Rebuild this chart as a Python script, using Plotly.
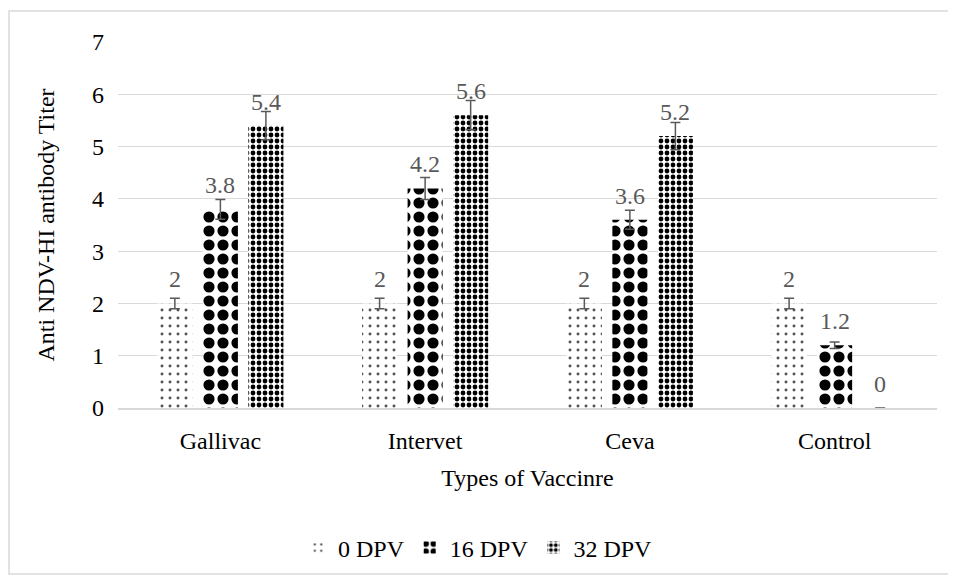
import plotly.graph_objects as go

categories = ["Gallivac", "Intervet", "Ceva", "Control"]
series_names = ["0 DPV", "16 DPV", "32 DPV"]
dpv0 = [2, 2, 2, 2]
dpv16 = [3.8, 4.2, 3.6, 1.2]
dpv32 = [5.4, 5.6, 5.2, 0]
err0 = [0.1, 0.1, 0.1, 0.1]
err16 = [0.19, 0.21, 0.18, 0.06]
err32 = [0.27, 0.28, 0.26, 0.0]

values = [dpv0, dpv16, dpv32]
errors = [err0, err16, err32]
patterns = [
    dict(shape=".", size=8, solidity=0.1, fgcolor="#505050", bgcolor="white", fillmode="replace"),
    dict(shape=".", size=14, solidity=0.5, fgcolor="black", bgcolor="white", fillmode="replace"),
    dict(shape=".", size=6, solidity=0.5, fgcolor="black", bgcolor="white", fillmode="replace"),
]

FONT = "Liberation Serif, Times New Roman, serif"
FS = 24
fig = go.Figure()
for name, vals, errs, pat in zip(series_names, values, errors, patterns):
    fig.add_trace(go.Bar(
        name=name, x=categories, y=vals,
        marker=dict(color="white", pattern=pat, line=dict(width=0)),
        error_y=dict(type="data", array=errs, visible=True, color="#595959", thickness=1.5, width=5),
    ))

annotations = []
slot = 45.5
for i, vals in enumerate(values):
    for c, v in zip(categories, vals):
        annotations.append(dict(
            x=c, y=v, xref="x", yref="y", text=f"{v:g}", showarrow=False,
            xshift=(i - 1) * slot, yshift=24, yanchor="middle",
            font=dict(family=FONT, size=FS, color="#595959"),
        ))

fig.update_layout(
    width=948, height=568,
    margin=dict(l=110, r=19, t=34, b=168, autoexpand=False),
    paper_bgcolor="white", plot_bgcolor="white",
    barmode="group", bargap=0.333, bargroupgap=0.23,
    font=dict(family=FONT, size=FS, color="black"),
    showlegend=True,
    legend=dict(orientation="h", x=0.4396, xanchor="center", y=-0.3825, yanchor="middle",
                font=dict(family=FONT, size=FS, color="black"), itemwidth=30,
                traceorder="normal"),
    annotations=annotations,
    shapes=[dict(type="rect", xref="paper", yref="paper",
                 x0=-0.1331, x1=1.022, y0=-0.4536, y1=1.0847,
                 line=dict(color="#D9D9D9", width=1.5), fillcolor="rgba(0,0,0,0)", layer="below")],
)
fig.update_yaxes(range=[0, 7], dtick=1, showgrid=True, gridcolor="#D9D9D9", gridwidth=1,
                 zeroline=False, showline=False, ticks="", automargin=False,
                 tickfont=dict(family=FONT, size=FS, color="black"), ticklabelstandoff=13,
                 title=dict(text="Anti NDV-HI antibody Titer", font=dict(family=FONT, size=FS, color="black"), standoff=30))
fig.update_xaxes(showline=True, linecolor="#D9D9D9", linewidth=1.5, ticks="", automargin=False,
                 tickfont=dict(family=FONT, size=FS, color="black"), ticklabelstandoff=10,
                 title=dict(text="Types of Vaccinre", font=dict(family=FONT, size=FS, color="black"), standoff=17))

fig.write_html("out.html")
